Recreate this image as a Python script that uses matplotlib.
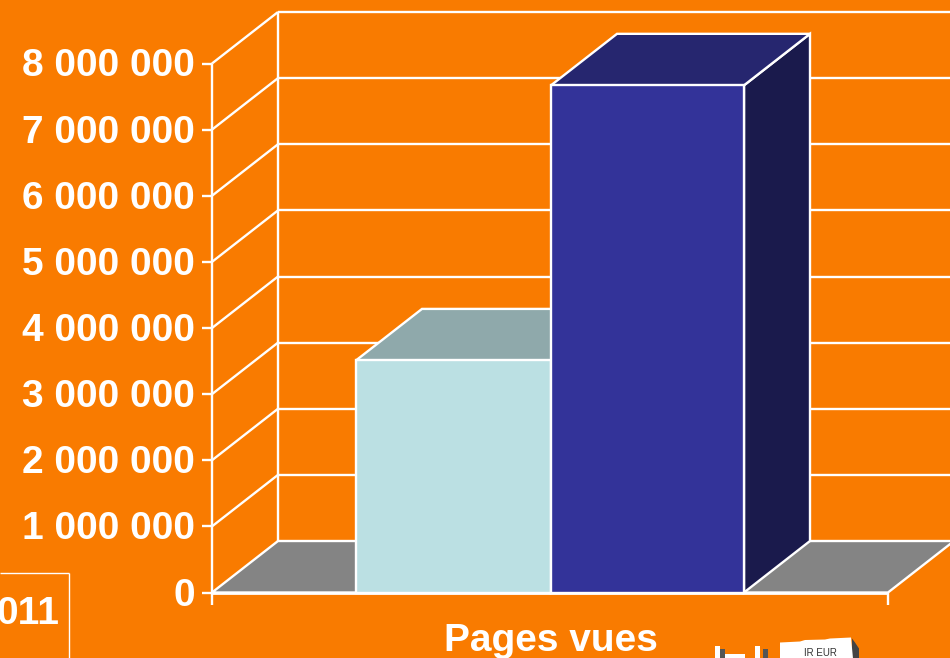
import matplotlib
matplotlib.use("Agg")
import matplotlib.pyplot as plt
from matplotlib.patches import Polygon, Rectangle

# ---- data ----
tick_values = [0, 1000000, 2000000, 3000000, 4000000, 5000000, 6000000, 7000000, 8000000]
tick_labels = ["0", "1 000 000", "2 000 000", "3 000 000", "4 000 000",
               "5 000 000", "6 000 000", "7 000 000", "8 000 000"]
series_values = [3510000, 7670000]
category = "Pages vues"
stub_label = "011"
logo_text = "IR EUR"

# ---- style ----
ORANGE = "#F97B00"
FRONT = ["#BBE0E3", "#333399"]
TOP = ["#8FA9AB", "#26266F"]
SIDE = ["#8FA9AB", "#1A1A4C"]
FLOOR = "#848484"
W = "white"

fig = plt.figure(figsize=(9.5, 6.58), dpi=100, facecolor=ORANGE)
ax = fig.add_axes([0, 0, 1, 1])
ax.set_facecolor(ORANGE)
ax.axis("off")

PX = 1000000 / 66.125          # value units per pixel
Y0 = 592.5                     # pixel row of the value 0
ax.set_xlim(0, 950)
ax.set_ylim(-(658 - Y0) * PX, Y0 * PX)
DX, DY = 66, 51.5 * PX         # depth of the 3-D box
XL, XR = 212, 888
TOPV = tick_values[-1]
LW = 1.7


def line(xs, ys, z=2, lw=LW):
    ax.plot(xs, ys, color=W, lw=lw, zorder=z, solid_capstyle="butt", clip_on=True)


# floor
ax.add_patch(Polygon([(XL, 0), (XR, 0), (XR + DX, DY), (XL + DX, DY)],
                     closed=True, fc=FLOOR, ec=W, lw=LW, zorder=1))

# walls and gridlines
for v in tick_values:
    if v > 0:
        line([XL, XL + DX], [v, v + DY])
        line([XL + DX, 950], [v + DY, v + DY])
    line([XL - 10, XL], [v, v])
line([XL, XL], [-12 * PX, TOPV])
line([XL + DX, XL + DX], [DY, TOPV + DY])
line([XR, XR], [-12 * PX, 0])
line([XL, XR], [0, 0], z=5, lw=2)

# bars
edges = [356, 551, 744]
for i, v in enumerate(series_values):
    x0, x1 = edges[i], edges[i + 1]
    ax.add_patch(Polygon([(x1, 0), (x1 + DX, DY), (x1 + DX, v + DY), (x1, v)],
                         closed=True, fc=SIDE[i], ec=W, lw=LW, zorder=3 + i))
    ax.add_patch(Polygon([(x0, v), (x1, v), (x1 + DX, v + DY), (x0 + DX, v + DY)],
                         closed=True, fc=TOP[i], ec=W, lw=LW, zorder=3 + i))
    ax.add_patch(Rectangle((x0, 0), x1 - x0, v, fc=FRONT[i], ec=W, lw=LW, zorder=3 + i))

# text
font = dict(family="Liberation Sans", fontweight="bold", color=W, fontsize=28)
for v, s in zip(tick_values, tick_labels):
    ax.text(195, v + 1 * PX, s, ha="right", va="center_baseline", **font)
ax.text(551, -44.5 * PX, category, ha="center", va="center_baseline", **font)

# stub box at lower left
line([0, 69], [19.5 * PX, 19.5 * PX], lw=1)
line([69, 69], [-66 * PX, 19.5 * PX], lw=1)
ax.text(59, -18 * PX, stub_label, ha="right", va="center_baseline", **font)

# logo fragment at the bottom edge
ax.add_patch(Polygon([(780, -66 * PX), (780, -50 * PX), (800, -49 * PX), (805, -47.5 * PX),
                      (825, -47 * PX), (830, -46 * PX), (851, -45 * PX), (853, -66 * PX)],
                     closed=True, fc=W, ec="none", zorder=6))
ax.add_patch(Polygon([(852, -66 * PX), (852, -46 * PX), (855, -50 * PX), (859, -56 * PX), (859, -66 * PX)],
                     closed=True, fc="#444444", ec="none", zorder=5))
for x in (715, 755):
    ax.add_patch(Rectangle((x, -66 * PX), 5, 13 * PX, fc=W, ec="none", zorder=6))
    ax.add_patch(Rectangle((x + 5 + (x == 755) * 3, -66 * PX), 5, 10 * PX, fc="#555555", ec="none", zorder=6))
ax.add_patch(Rectangle((725, -66 * PX), 20, 5 * PX, fc=W, ec="none", zorder=6))
ax.text(820, -65.5 * PX, logo_text, ha="center", va="bottom", fontsize=7,
        family="Liberation Sans", color="#333333", zorder=7, clip_on=True)

fig.savefig("out.png", dpi=100, facecolor=ORANGE)
